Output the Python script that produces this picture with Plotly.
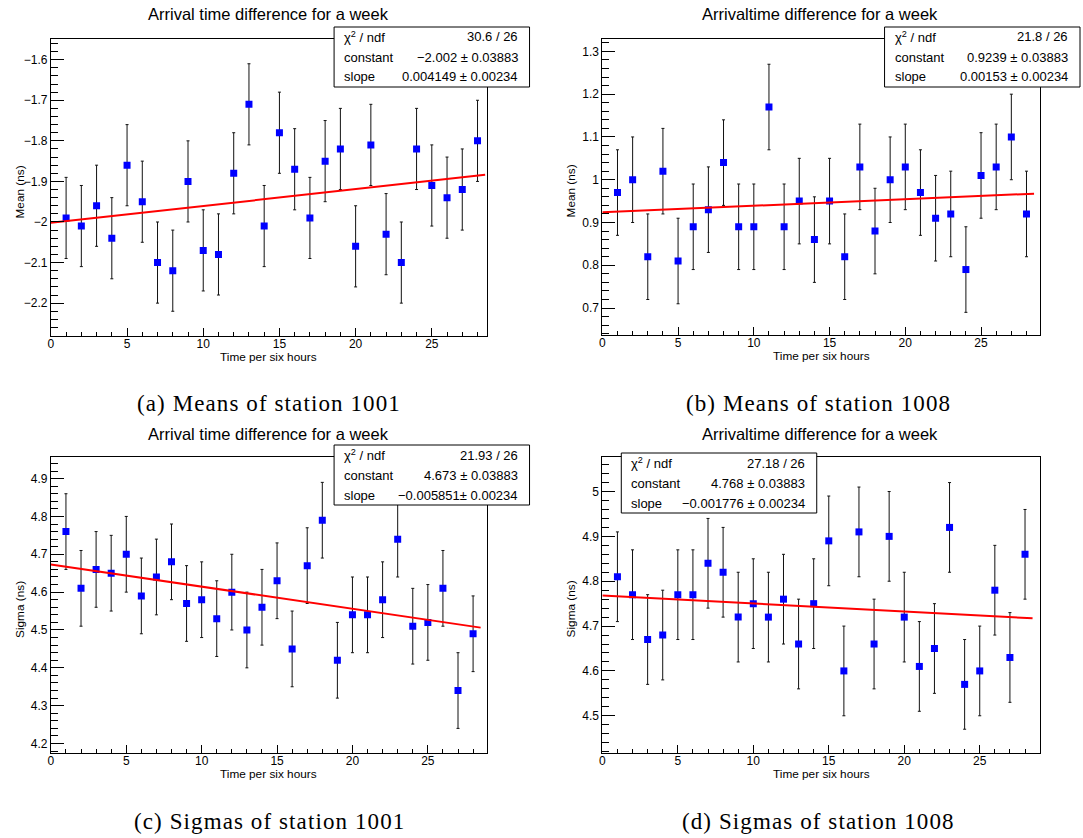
import plotly.graph_objects as go

# ---------------- data ----------------
x_bins = list(range(1, 29))

mean_1001 = [-1.99, -2.01, -1.96, -2.04, -1.86, -1.95, -2.10, -2.12, -1.90, -2.07,
             -2.08, -1.88, -1.71, -2.01, -1.78, -1.87, -1.99, -1.85, -1.82, -2.06,
             -1.81, -2.03, -2.10, -1.82, -1.91, -1.94, -1.92, -1.80]
mean_1008 = [0.97, 1.00, 0.82, 1.02, 0.81, 0.89, 0.93, 1.04, 0.89, 0.89,
             1.17, 0.89, 0.95, 0.86, 0.95, 0.82, 1.03, 0.88, 1.00, 1.03,
             0.97, 0.91, 0.92, 0.79, 1.01, 1.03, 1.10, 0.92]
sigma_1001 = [4.76, 4.61, 4.66, 4.65, 4.70, 4.59, 4.64, 4.68, 4.57, 4.58,
              4.53, 4.60, 4.50, 4.56, 4.63, 4.45, 4.67, 4.79, 4.42, 4.54,
              4.54, 4.58, 4.74, 4.51, 4.52, 4.61, 4.34, 4.49]
sigma_1008 = [4.81, 4.77, 4.67, 4.68, 4.77, 4.77, 4.84, 4.82, 4.72, 4.75,
              4.72, 4.76, 4.66, 4.75, 4.89, 4.60, 4.91, 4.66, 4.90, 4.72,
              4.61, 4.65, 4.92, 4.57, 4.60, 4.78, 4.63, 4.86]
error_val = 0.1

fit_const = [-2.002, 0.9239, 4.673, 4.768]
fit_slope = [0.004149, 0.00153, -0.005851, -0.001776]
fit_x = [0, 28.5]

chi2_text = ["30.6 / 26", "21.8 / 26", "21.93 / 26", "27.18 / 26"]
const_text = ["\u22122.002 \u00b1 0.03883", "0.9239 \u00b1 0.03883",
              "4.673 \u00b1 0.03883", "4.768 \u00b1 0.03883"]
slope_text = ["0.004149 \u00b1 0.00234", "0.00153 \u00b1 0.00234",
              "\u22120.005851\u00b1 0.00234", "\u22120.001776 \u00b1 0.00234"]

titles = ["Arrival time difference for a week", "Arrivaltime difference for a week",
          "Arrival time difference for a week", "Arrivaltime difference for a week"]
y_titles = ["Mean (ns)", "Mean (ns)", "Sigma (ns)", "Sigma (ns)"]
captions = ["(a) Means of station 1001", "(b) Means of station 1008",
            "(c) Sigmas of station 1001", "(d) Sigmas of station 1008"]
series = [mean_1001, mean_1008, sigma_1001, sigma_1008]

# ---------------- layout geometry (pixels) ----------------
W, H = 1083, 838
frames = [(48, 485, 39, 336), (601, 1040, 39, 335), (48, 485, 457, 753), (601, 1040, 457, 753)]
x_ranges = [(0, 28.6), (0, 28.9), (0, 28.9), (0, 29.0)]
y_ranges = [(-2.281, -1.549), (0.637, 1.329), (4.175, 4.957), (4.417, 5.077)]
stat_boxes = [(332, 528, 27, 87), (884, 1080, 27, 87), (332, 528, 445, 505), (620, 816, 453, 513)]
title_pos = [(266, 14), (819, 14), (266, 434), (819, 434)]
caption_pos = [(267, 403), (818, 403), (267, 821), (818, 821)]


def xp(px):
    return px / W


def yp(py):
    return 1 - py / H


FONT = "Liberation Sans, Arial, sans-serif"
fig = go.Figure()
annotations = []
shapes = []
layout = {}

for i in range(4):
    n = "" if i == 0 else str(i + 1)
    xa, ya = "x" + n, "y" + n
    l, r, t, b = frames[i]
    fig.add_trace(go.Scatter(
        x=x_bins, y=series[i], xaxis=xa, yaxis=ya, mode="markers",
        marker=dict(symbol="square", size=7, color="#0000ff"),
        error_y=dict(type="constant", value=error_val, color="#111111", thickness=1, width=1.5),
        showlegend=False, hoverinfo="skip"))
    fig.add_trace(go.Scatter(
        x=fit_x, y=[fit_const[i] + fit_slope[i] * v for v in fit_x], xaxis=xa, yaxis=ya,
        mode="lines", line=dict(color="#ff0000", width=2), showlegend=False, hoverinfo="skip"))

    layout["xaxis" + n] = dict(
        domain=[xp(l), xp(r)], anchor=ya, range=list(x_ranges[i]),
        showline=True, linecolor="black", linewidth=1, mirror=True,
        ticks="inside", ticklen=8, tickcolor="black", tick0=0, dtick=5,
        minor=dict(ticks="inside", ticklen=4, dtick=1, tickcolor="black", showgrid=False),
        showgrid=False, zeroline=False, ticklabelstandoff=-3,
        tickfont=dict(family=FONT, size=12, color="black"))
    layout["yaxis" + n] = dict(
        domain=[yp(b), yp(t)], anchor=xa, range=list(y_ranges[i]),
        showline=True, linecolor="black", linewidth=1, mirror=True,
        ticks="inside", ticklen=13, tickcolor="black", tick0=0, dtick=0.1,
        minor=dict(ticks="inside", ticklen=7, dtick=0.02, tickcolor="black", showgrid=False),
        showgrid=False, zeroline=False,
        tickfont=dict(family=FONT, size=12, color="black"))

    # title
    annotations.append(dict(x=xp(title_pos[i][0]), y=yp(title_pos[i][1]), xref="paper", yref="paper",
                            text=titles[i], showarrow=False, xanchor="center", yanchor="middle",
                            font=dict(family=FONT, size=16.5, color="black")))
    # axis titles
    annotations.append(dict(x=xp((l + r) / 2), y=yp(b + 21), xref="paper", yref="paper",
                            text="Time per six hours", showarrow=False, xanchor="center", yanchor="middle",
                            font=dict(family=FONT, size=11.8, color="black")))
    annotations.append(dict(x=xp(l - 31), y=yp((t + b) / 2 + 4), xref="paper", yref="paper",
                            text=y_titles[i], showarrow=False, textangle=-90, xanchor="center",
                            yanchor="middle", font=dict(family=FONT, size=11.8, color="black")))
    # caption
    annotations.append(dict(x=xp(caption_pos[i][0]), y=yp(caption_pos[i][1]), xref="paper", yref="paper",
                            text='<span style="letter-spacing:1.1px">' + captions[i] + '</span>',
                            showarrow=False, xanchor="center", yanchor="middle",
                            font=dict(family="Liberation Serif, serif", size=23, color="black")))
    # stat box
    bl, br, bt, bb = stat_boxes[i]
    shapes.append(dict(type="rect", xref="paper", yref="paper", x0=xp(bl), x1=xp(br), y0=yp(bb), y1=yp(bt),
                       line=dict(color="black", width=1), fillcolor="white", layer="above"))
    rows = [("\u03c7<sup>2</sup> / ndf", chi2_text[i]), ("constant", const_text[i]), ("slope", slope_text[i])]
    rh = (bb - bt) / 3
    for k, (lab, val) in enumerate(rows):
        yy = bt + rh * (k + 0.5)
        annotations.append(dict(x=xp(bl + 8), y=yp(yy), xref="paper", yref="paper", text=lab,
                                showarrow=False, xanchor="left", yanchor="middle",
                                font=dict(family=FONT, size=13, color="black")))
        annotations.append(dict(x=xp(br - 10), y=yp(yy), xref="paper", yref="paper", text=val,
                                showarrow=False, xanchor="right", yanchor="middle",
                                font=dict(family=FONT, size=13, color="black")))

fig.update_layout(
    width=W, height=H, autosize=False,
    margin=dict(l=0, r=0, t=0, b=0),
    paper_bgcolor="white", plot_bgcolor="white",
    annotations=annotations, shapes=shapes, **layout)

fig.write_html("out.html")
